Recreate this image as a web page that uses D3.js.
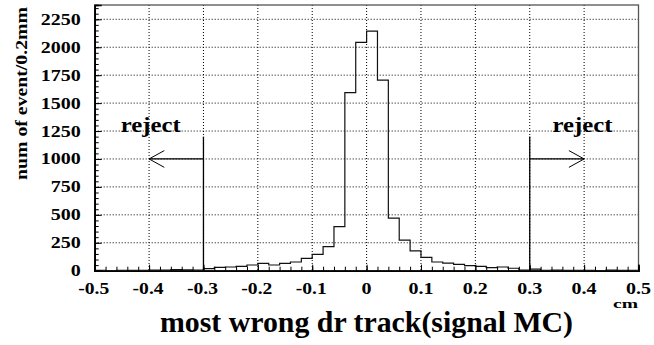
<!DOCTYPE html>
<html lang='en'>

<head>
    <meta charset='UTF-8'>
    <title>most wrong dr track</title>
    <script src='https://d3js.org/d3.v7.min.js' charset='utf-8'></script>
    <style>
        body {
            margin: 0px;
            background: white;
            overflow: hidden;
        }

        svg text {
            font-family: "Liberation Serif", "Times New Roman", Times, serif;
            font-weight: bold;
            fill: black;
        }
    </style>
</head>

<body>
    <div id='chart'></div>
    <script>
        'use strict';

        // bin low edges, 0.02 cm (0.2 mm) wide, from -0.5 to 0.5
        const binEdges = d3.range(50).map(i => +(-0.5 + i * 0.02).toFixed(2));
        const counts = [
            3, 2, 4, 3, 4, 6, 5, 9, 7, 6,
            18, 30, 33, 39, 51, 66, 51, 66, 78, 111,
            147, 215, 394, 1593, 2044, 2145, 1705, 470, 273, 178,
            120, 78, 67, 57, 46, 38, 27, 33, 22, 6,
            14, 4, 5, 3, 4, 3, 2, 5, 4, 3
        ];
        const xTicks = [-0.5, -0.4, -0.3, -0.2, -0.1, 0, 0.1, 0.2, 0.3, 0.4, 0.5];
        const xTickLabels = ['-0.5', '-0.4', '-0.3', '-0.2', '-0.1', '0', '0.1', '0.2', '0.3', '0.4', '0.5'];
        const yTicks = [0, 250, 500, 750, 1000, 1250, 1500, 1750, 2000, 2250];
        const cuts = [-0.3, 0.3];

        const W = 654, H = 345;
        const margin = { top: 5, right: 15.5, bottom: 74.3, left: 94.7 },
            width = W - margin.left - margin.right,
            height = H - margin.top - margin.bottom;

        // labels in the picture are a bit wider than the font, so fix their length
        const charW = { '-': 6, '.': 5 };
        function labelLength(s) {
            return d3.sum(String(s).split(''), c => charW[c] || 10);
        }

        const svg = d3.select('#chart')
            .append('svg')
            .attr('width', W)
            .attr('height', H);

        const g = svg.append('g')
            .attr('transform', `translate(${margin.left}, ${margin.top})`);

        const x = d3.scaleLinear().domain([-0.5, 0.5]).range([0, width]);
        const y = d3.scaleLinear().domain([0, 2378]).range([height, 0]);

        // grid
        g.append('g')
            .selectAll('line')
            .data(xTicks.slice(1, -1))
            .join('line')
            .attr('x1', d => x(d)).attr('x2', d => x(d))
            .attr('y1', 0).attr('y2', height)
            .attr('stroke', '#000').attr('stroke-dasharray', '1,2');
        g.append('g')
            .selectAll('line')
            .data(yTicks.slice(1))
            .join('line')
            .attr('x1', 0).attr('x2', width)
            .attr('y1', d => y(d)).attr('y2', d => y(d))
            .attr('stroke', '#000').attr('stroke-dasharray', '1,2');

        // histogram
        const pts = binEdges.map((e, i) => [e, counts[i]]);
        pts.push([0.5, counts[counts.length - 1]]);
        g.append('path')
            .datum(pts)
            .attr('fill', 'none')
            .attr('stroke', '#111')
            .attr('stroke-width', 1.2)
            .attr('d', d3.line().x(d => x(d[0])).y(d => y(d[1])).curve(d3.curveStepAfter));

        // frame
        g.append('rect')
            .attr('width', width).attr('height', height)
            .attr('fill', 'none').attr('stroke', '#555').attr('stroke-width', 1.3);

        // axes, ticks point inward
        g.append('g')
            .call(d3.axisRight(y).tickValues(yTicks).tickSize(7).tickFormat(''));
        g.append('g')
            .call(d3.axisRight(y).tickValues(d3.range(0, 2378, 50)).tickSize(4).tickFormat(''));
        g.append('g')
            .attr('transform', `translate(0, ${height})`)
            .call(d3.axisTop(x).tickValues(xTicks).tickSize(6).tickFormat(''));
        g.append('g')
            .attr('transform', `translate(0, ${height})`)
            .call(d3.axisTop(x).tickValues(binEdges).tickSize(4).tickFormat(''));
        g.selectAll('.tick line').attr('stroke', '#000');
        g.selectAll('.domain').attr('stroke', '#000').attr('stroke-width', 1.6);

        // tick labels
        g.append('g').selectAll('text')
            .data(yTicks)
            .join('text')
            .attr('x', -14)
            .attr('y', d => y(d) + 5.5)
            .attr('text-anchor', 'end')
            .attr('font-size', 16)
            .attr('textLength', d => labelLength(d))
            .attr('lengthAdjust', 'spacingAndGlyphs')
            .text(d => d);

        g.append('g').selectAll('text')
            .data(xTicks)
            .join('text')
            .attr('x', (d, i) => x(d) - (xTickLabels[i][0] === '-' ? 1 : 0))
            .attr('y', height + 23)
            .attr('text-anchor', 'middle')
            .attr('font-size', 16)
            .attr('textLength', (d, i) => labelLength(xTickLabels[i]))
            .attr('lengthAdjust', 'spacingAndGlyphs')
            .text((d, i) => xTickLabels[i]);

        // cut lines with arrows
        cuts.forEach(c => {
            const dir = c < 0 ? -1 : 1;
            const tip = c + dir * 0.1;
            g.append('line')
                .attr('x1', x(c)).attr('x2', x(c))
                .attr('y1', y(0)).attr('y2', y(1200))
                .attr('stroke', '#000').attr('stroke-width', 1.3);
            g.append('line')
                .attr('x1', x(c)).attr('x2', x(tip))
                .attr('y1', y(1000)).attr('y2', y(1000))
                .attr('stroke', '#000').attr('stroke-width', 1.3);
            g.append('path')
                .attr('d', `M${x(tip - dir * 0.028)},${y(1075)}L${x(tip)},${y(1000)}L${x(tip - dir * 0.028)},${y(925)}`)
                .attr('fill', 'none').attr('stroke', '#000').attr('stroke-width', 1);
            g.append('text')
                .attr('x', x(c + dir * 0.097))
                .attr('y', y(1243))
                .attr('text-anchor', 'middle')
                .attr('font-size', 22)
                .attr('textLength', 60).attr('lengthAdjust', 'spacingAndGlyphs')
                .text('reject');
        });

        // axis titles
        svg.append('text')
            .attr('x', 638)
            .attr('y', 308)
            .attr('text-anchor', 'end')
            .attr('font-size', 13)
            .attr('textLength', 25).attr('lengthAdjust', 'spacingAndGlyphs')
            .text('cm');

        svg.append('text')
            .attr('x', 366.5)
            .attr('y', 331.7)
            .attr('text-anchor', 'middle')
            .attr('font-size', 30)
            .attr('textLength', 413).attr('lengthAdjust', 'spacingAndGlyphs')
            .text('most wrong dr track(signal MC)');

        svg.append('text')
            .attr('transform', 'translate(27, 7) rotate(-90)')
            .attr('text-anchor', 'end')
            .attr('font-size', 16)
            .attr('textLength', 173).attr('lengthAdjust', 'spacingAndGlyphs')
            .text('num of event/0.2mm');
    </script>
</body>

</html>
